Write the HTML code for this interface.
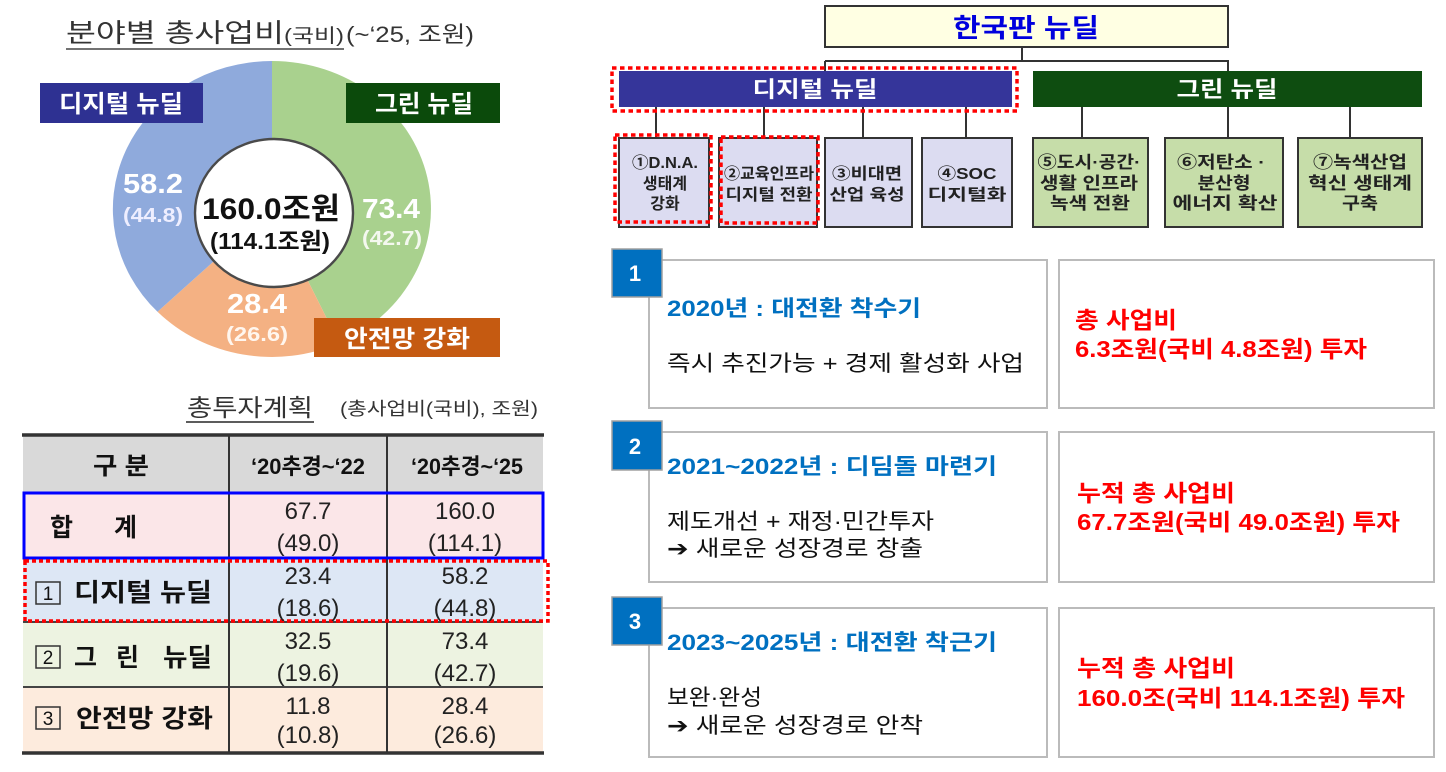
<!DOCTYPE html>
<html><head><meta charset="utf-8"><style>
html,body{margin:0;padding:0;background:#fff;}
svg{display:block;}
text{font-family:"Liberation Sans","Noto Sans CJK KR",sans-serif;}
</style></head><body>
<svg width="1446" height="772" viewBox="0 0 1446 772" xmlns="http://www.w3.org/2000/svg">
<rect width="1446" height="772" fill="#fff"/>

<!-- ===== LEFT TOP: title ===== -->
<text x="66" y="42" font-size="26" fill="#333" textLength="218" lengthAdjust="spacingAndGlyphs">분야별 총사업비</text>
<text x="284" y="42" font-size="19" fill="#333" textLength="60" lengthAdjust="spacingAndGlyphs">(국비)</text>
<text x="346" y="42" font-size="22" fill="#333" textLength="128" lengthAdjust="spacingAndGlyphs">(~‘25, 조원)</text>
<line x1="66" y1="49" x2="344" y2="49" stroke="#444" stroke-width="1.6"/>

<!-- donut -->
<g transform="translate(272,209) scale(1.075,1)">
  <path d="M0,0 L0,-148 A148,148 0 0 1 62.5,134.1 Z" fill="#A9D18E"/>
  <path d="M0,0 L62.5,134.1 A148,148 0 0 1 -106.5,102.8 Z" fill="#F4B183"/>
  <path d="M0,0 L-106.5,102.8 A148,148 0 0 1 0,-148 Z" fill="#8FAADC"/>
</g>
<ellipse cx="274" cy="213" rx="79" ry="74" fill="#fff" stroke="#4a4a4a" stroke-width="2.4"/>

<text x="153" y="193" font-size="28" font-weight="bold" fill="#fff" text-anchor="middle" textLength="60" lengthAdjust="spacingAndGlyphs">58.2</text>
<text x="153" y="222" font-size="20" font-weight="bold" fill="#eef" text-anchor="middle" textLength="60" lengthAdjust="spacingAndGlyphs">(44.8)</text>
<text x="391" y="218" font-size="28" font-weight="bold" fill="#fff" text-anchor="middle" textLength="58" lengthAdjust="spacingAndGlyphs">73.4</text>
<text x="392" y="245" font-size="20" font-weight="bold" fill="#f4f8ef" text-anchor="middle" textLength="60" lengthAdjust="spacingAndGlyphs">(42.7)</text>
<text x="257" y="313" font-size="28" font-weight="bold" fill="#fff" text-anchor="middle" textLength="60" lengthAdjust="spacingAndGlyphs">28.4</text>
<text x="257" y="341" font-size="20" font-weight="bold" fill="#fff6ee" text-anchor="middle" textLength="62" lengthAdjust="spacingAndGlyphs">(26.6)</text>

<text x="271" y="219" font-size="30" font-weight="bold" fill="#111" text-anchor="middle" textLength="138" lengthAdjust="spacingAndGlyphs">160.0조원</text>
<text x="270" y="249" font-size="23" font-weight="bold" fill="#111" text-anchor="middle" textLength="120" lengthAdjust="spacingAndGlyphs">(114.1조원)</text>

<!-- donut label boxes -->
<rect x="40" y="83" width="163" height="40" fill="#2E3192"/>
<text x="121" y="112" font-size="24" font-weight="bold" fill="#fff" text-anchor="middle" textLength="124" lengthAdjust="spacingAndGlyphs">디지털 뉴딜</text>
<rect x="346" y="83" width="154" height="40" fill="#0B4A0B"/>
<text x="424" y="112" font-size="24" font-weight="bold" fill="#fff" text-anchor="middle" textLength="98" lengthAdjust="spacingAndGlyphs">그린 뉴딜</text>
<rect x="314" y="318" width="186" height="39" fill="#C55A11"/>
<text x="407" y="347" font-size="24" font-weight="bold" fill="#fff" text-anchor="middle" textLength="126" lengthAdjust="spacingAndGlyphs">안전망 강화</text>

<!-- ===== LEFT BOTTOM: table ===== -->
<text x="187" y="416" font-size="24" fill="#333" textLength="126" lengthAdjust="spacingAndGlyphs">총투자계획</text>
<line x1="186" y1="422" x2="314" y2="422" stroke="#444" stroke-width="1.8"/>
<text x="340" y="415" font-size="18" fill="#333" textLength="198" lengthAdjust="spacingAndGlyphs">(총사업비(국비), 조원)</text>

<rect x="23" y="435" width="520" height="58" fill="#D9D9D9"/>
<rect x="23" y="493" width="520" height="65" fill="#FBE6E8"/>
<rect x="23" y="558" width="520" height="64" fill="#DDE7F5"/>
<rect x="23" y="622" width="520" height="65" fill="#EDF3E1"/>
<rect x="23" y="687" width="520" height="66" fill="#FDEBDD"/>

<line x1="23" y1="558" x2="543" y2="558" stroke="#444" stroke-width="1.5"/>
<line x1="23" y1="622" x2="543" y2="622" stroke="#444" stroke-width="2"/>
<line x1="23" y1="687" x2="543" y2="687" stroke="#444" stroke-width="2"/>
<line x1="229" y1="435" x2="229" y2="753" stroke="#333" stroke-width="2"/>
<line x1="387" y1="435" x2="387" y2="753" stroke="#333" stroke-width="2"/>
<line x1="22" y1="435" x2="544" y2="435" stroke="#333" stroke-width="3.5"/>
<line x1="22" y1="753" x2="544" y2="753" stroke="#333" stroke-width="3.5"/>

<rect x="24" y="493" width="519" height="65" fill="none" stroke="#0000FF" stroke-width="3"/>
<rect x="25" y="561" width="523" height="60" fill="none" stroke="#FF0000" stroke-width="3.5" stroke-dasharray="4 3"/>

<!-- header -->
<text x="93" y="474" font-size="24" font-weight="bold" fill="#111" textLength="56" lengthAdjust="spacingAndGlyphs">구 분</text>
<text x="308" y="474" font-size="22" font-weight="bold" fill="#111" text-anchor="middle" textLength="114" lengthAdjust="spacingAndGlyphs">‘20추경~‘22</text>
<text x="467" y="474" font-size="22" font-weight="bold" fill="#111" text-anchor="middle" textLength="112" lengthAdjust="spacingAndGlyphs">‘20추경~‘25</text>

<!-- row labels -->
<text x="50" y="536" font-size="25" font-weight="bold" fill="#111">합</text>
<text x="114" y="536" font-size="25" font-weight="bold" fill="#111">계</text>

<rect x="36" y="582" width="24" height="22" fill="none" stroke="#333" stroke-width="1.5"/>
<text x="48" y="600" font-size="19" fill="#111" text-anchor="middle">1</text>
<text x="74" y="601" font-size="25" font-weight="bold" fill="#111" textLength="138" lengthAdjust="spacingAndGlyphs">디지털 뉴딜</text>

<rect x="36" y="646" width="24" height="22" fill="none" stroke="#333" stroke-width="1.5"/>
<text x="48" y="664" font-size="19" fill="#111" text-anchor="middle">2</text>
<text x="74" y="666" font-size="25" font-weight="bold" fill="#111">그</text>
<text x="116" y="666" font-size="25" font-weight="bold" fill="#111">린</text>
<text x="163" y="666" font-size="25" font-weight="bold" fill="#111" textLength="49" lengthAdjust="spacingAndGlyphs">뉴딜</text>

<rect x="36" y="707" width="24" height="22" fill="none" stroke="#333" stroke-width="1.5"/>
<text x="48" y="725" font-size="19" fill="#111" text-anchor="middle">3</text>
<text x="76" y="727" font-size="25" font-weight="bold" fill="#111" textLength="137" lengthAdjust="spacingAndGlyphs">안전망 강화</text>

<!-- values -->
<g font-size="24" fill="#222" text-anchor="middle">
<text x="308" y="519">67.7</text><text x="308" y="551">(49.0)</text>
<text x="465" y="519">160.0</text><text x="465" y="551">(114.1)</text>
<text x="308" y="584">23.4</text><text x="308" y="616">(18.6)</text>
<text x="465" y="584">58.2</text><text x="465" y="616">(44.8)</text>
<text x="308" y="649">32.5</text><text x="308" y="681">(19.6)</text>
<text x="465" y="649">73.4</text><text x="465" y="681">(42.7)</text>
<text x="308" y="714">11.8</text><text x="308" y="743">(10.8)</text>
<text x="465" y="714">28.4</text><text x="465" y="743">(26.6)</text>
</g>

<!-- ===== RIGHT TOP: org chart ===== -->
<rect x="825" y="6" width="403" height="41" fill="#FFFFE3" stroke="#333" stroke-width="2"/>
<text x="1026" y="37" font-size="26" font-weight="bold" fill="#0000DD" text-anchor="middle" textLength="146" lengthAdjust="spacingAndGlyphs">한국판 뉴딜</text>

<g stroke="#333" stroke-width="2">
<line x1="1022" y1="47" x2="1022" y2="61"/>
<line x1="825" y1="61" x2="1229" y2="61"/>
<line x1="825" y1="61" x2="825" y2="71"/>
<line x1="1228" y1="61" x2="1228" y2="71"/>
<line x1="656" y1="107" x2="656" y2="138"/>
<line x1="764" y1="107" x2="764" y2="138"/>
<line x1="863" y1="107" x2="863" y2="138"/>
<line x1="966" y1="107" x2="966" y2="138"/>
<line x1="1082" y1="107" x2="1082" y2="138"/>
<line x1="1228" y1="107" x2="1228" y2="138"/>
<line x1="1350" y1="107" x2="1350" y2="138"/>
</g>

<rect x="619" y="71" width="393" height="36" fill="#35359A"/>
<text x="815" y="97" font-size="22" font-weight="bold" fill="#fff" text-anchor="middle" textLength="125" lengthAdjust="spacingAndGlyphs">디지털 뉴딜</text>
<rect x="612" y="68" width="405" height="43" fill="none" stroke="#FF0000" stroke-width="3.5" stroke-dasharray="4.5 3.5"/>

<rect x="1033" y="71" width="389" height="36" fill="#0E4D10"/>
<text x="1227" y="97" font-size="22" font-weight="bold" fill="#fff" text-anchor="middle" textLength="101" lengthAdjust="spacingAndGlyphs">그린 뉴딜</text>

<!-- digital sub boxes -->
<g fill="#DCDCF1" stroke="#333" stroke-width="2">
<rect x="619" y="138" width="90" height="89"/>
<rect x="719" y="138" width="98" height="89"/>
<rect x="825" y="138" width="87" height="89"/>
<rect x="922" y="138" width="90" height="89"/>
</g>
<g fill="none" stroke="#FF0000" stroke-width="3.5" stroke-dasharray="4.5 3.5">
<rect x="615" y="135" width="96" height="87"/>
<rect x="721" y="137" width="97" height="86"/>
</g>
<g font-size="16" font-weight="bold" fill="#222" text-anchor="middle">
<text x="665" y="168" textLength="66" lengthAdjust="spacingAndGlyphs">①D.N.A.</text>
<text x="665" y="189">생태계</text>
<text x="665" y="209">강화</text>
<text x="769" y="179" textLength="90" lengthAdjust="spacingAndGlyphs">②교육인프라</text>
<text x="769" y="200" textLength="87" lengthAdjust="spacingAndGlyphs">디지털 전환</text>
<text x="867" y="179" textLength="70" lengthAdjust="spacingAndGlyphs">③비대면</text>
<text x="867" y="200" textLength="75" lengthAdjust="spacingAndGlyphs">산업 육성</text>
<text x="967" y="179" textLength="59" lengthAdjust="spacingAndGlyphs">④SOC</text>
<text x="967" y="200" textLength="79" lengthAdjust="spacingAndGlyphs">디지털화</text>
</g>

<!-- green sub boxes -->
<g fill="#C6DDA9" stroke="#333" stroke-width="2">
<rect x="1033" y="138" width="115" height="89"/>
<rect x="1165" y="138" width="118" height="89"/>
<rect x="1298" y="138" width="124" height="89"/>
</g>
<g font-size="17" font-weight="bold" fill="#222" text-anchor="middle">
<text x="1089" y="168" textLength="103" lengthAdjust="spacingAndGlyphs">⑤도시·공간·</text>
<text x="1089" y="189" textLength="98" lengthAdjust="spacingAndGlyphs">생활 인프라</text>
<text x="1090" y="209" textLength="80" lengthAdjust="spacingAndGlyphs">녹색 전환</text>
<text x="1221" y="168" textLength="88" lengthAdjust="spacingAndGlyphs">⑥저탄소 ·</text>
<text x="1224" y="189" textLength="53" lengthAdjust="spacingAndGlyphs">분산형</text>
<text x="1225" y="209" textLength="105" lengthAdjust="spacingAndGlyphs">에너지 확산</text>
<text x="1360" y="168" textLength="94" lengthAdjust="spacingAndGlyphs">⑦녹색산업</text>
<text x="1360" y="189" textLength="104" lengthAdjust="spacingAndGlyphs">혁신 생태계</text>
<text x="1360" y="209" textLength="36" lengthAdjust="spacingAndGlyphs">구축</text>
</g>

<!-- ===== RIGHT BOTTOM: phase boxes ===== -->
<g fill="#fff" stroke="#BBBBBB" stroke-width="2">
<rect x="649" y="260" width="398" height="148"/>
<rect x="1059" y="260" width="375" height="148"/>
<rect x="649" y="432" width="398" height="150"/>
<rect x="1059" y="432" width="375" height="150"/>
<rect x="649" y="608" width="398" height="149"/>
<rect x="1059" y="608" width="375" height="149"/>
</g>
<g fill="#0070C0" stroke="#A0A0A0" stroke-width="1.5">
<rect x="612" y="249" width="50" height="48"/>
<rect x="612" y="421" width="50" height="49"/>
<rect x="612" y="597" width="50" height="48"/>
</g>
<g font-size="22" font-weight="bold" fill="#fff" text-anchor="middle">
<text x="635" y="281">1</text>
<text x="635" y="454">2</text>
<text x="635" y="629">3</text>
</g>

<!-- box 1 -->
<text x="667" y="316" font-size="22" font-weight="bold" fill="#0070C0" textLength="254" lengthAdjust="spacingAndGlyphs">2020년 : 대전환 착수기</text>
<text x="667" y="371" font-size="22" fill="#111" textLength="357" lengthAdjust="spacingAndGlyphs">즉시 추진가능 + 경제 활성화 사업</text>
<text x="1075" y="328" font-size="23" font-weight="bold" fill="#FF0000" textLength="102" lengthAdjust="spacingAndGlyphs">총 사업비</text>
<text x="1075" y="357" font-size="23" font-weight="bold" fill="#FF0000" textLength="292" lengthAdjust="spacingAndGlyphs">6.3조원(국비 4.8조원) 투자</text>

<!-- box 2 -->
<text x="667" y="474" font-size="22" font-weight="bold" fill="#0070C0" textLength="330" lengthAdjust="spacingAndGlyphs">2021~2022년 : 디딤돌 마련기</text>
<text x="667" y="529" font-size="22" fill="#111" textLength="267" lengthAdjust="spacingAndGlyphs">제도개선 + 재정·민간투자</text>
<text x="667" y="556" font-size="22" fill="#111" textLength="256" lengthAdjust="spacingAndGlyphs"><tspan font-family="DejaVu Sans" font-weight="bold">➔</tspan> 새로운 성장경로 창출</text>
<text x="1077" y="501" font-size="23" font-weight="bold" fill="#FF0000" textLength="158" lengthAdjust="spacingAndGlyphs">누적 총 사업비</text>
<text x="1077" y="530" font-size="23" font-weight="bold" fill="#FF0000" textLength="323" lengthAdjust="spacingAndGlyphs">67.7조원(국비 49.0조원) 투자</text>

<!-- box 3 -->
<text x="667" y="650" font-size="22" font-weight="bold" fill="#0070C0" textLength="330" lengthAdjust="spacingAndGlyphs">2023~2025년 : 대전환 착근기</text>
<text x="667" y="705" font-size="22" fill="#111" textLength="95" lengthAdjust="spacingAndGlyphs">보완·완성</text>
<text x="667" y="733" font-size="22" fill="#111" textLength="256" lengthAdjust="spacingAndGlyphs"><tspan font-family="DejaVu Sans" font-weight="bold">➔</tspan> 새로운 성장경로 안착</text>
<text x="1077" y="676" font-size="23" font-weight="bold" fill="#FF0000" textLength="158" lengthAdjust="spacingAndGlyphs">누적 총 사업비</text>
<text x="1077" y="706" font-size="23" font-weight="bold" fill="#FF0000" textLength="328" lengthAdjust="spacingAndGlyphs">160.0조(국비 114.1조원) 투자</text>

</svg>
</body></html>
